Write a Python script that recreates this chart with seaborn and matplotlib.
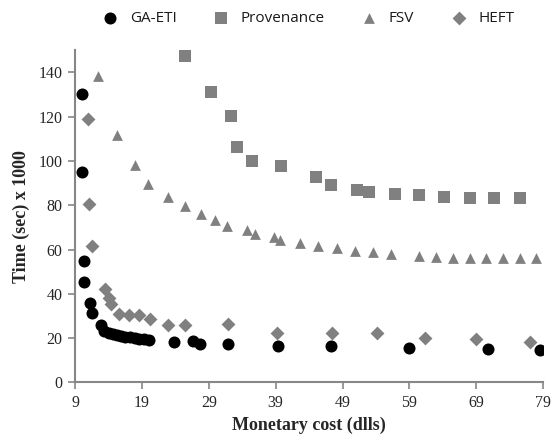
import matplotlib
matplotlib.use("Agg")
import matplotlib.pyplot as plt
import seaborn as sns
import pandas as pd

ga_x = [10.1, 10.0, 10.3, 10.3, 11.25, 11.6, 12.9, 13.4, 14.0, 14.6, 15.2, 15.8, 16.5, 17.2, 17.9, 18.6, 19.3, 20.0,
        23.8, 26.6, 27.7, 31.8, 39.4, 47.3, 59.0, 70.7, 78.6]
ga_y = [130.1, 94.9, 54.7, 45.2, 35.8, 31.2, 26.0, 23.3, 22.3, 21.8, 21.4, 21.0, 20.6, 20.3, 20.0, 19.7, 19.4, 19.1,
        18.0, 18.9, 17.4, 17.1, 16.6, 16.2, 15.7, 15.1, 14.7]

prov_x = [25.5, 29.3, 32.3, 33.2, 35.5, 39.8, 45.1, 47.3, 51.2, 53.0, 56.8, 60.5, 64.2, 68.0, 71.7, 75.5]
prov_y = [147.5, 131.2, 120.3, 106.2, 100.1, 97.9, 92.9, 89.2, 86.9, 86.1, 85.1, 84.7, 83.9, 83.4, 83.4, 83.4]

fsv_x = [12.5, 15.3, 17.9, 19.9, 22.9, 25.5, 27.9, 29.9, 31.7, 34.7, 35.9, 38.8, 39.7, 42.6, 45.4, 48.2, 50.9, 53.6,
         56.3, 60.5, 63.0, 65.5, 68.0, 70.5, 73.0, 75.5, 78.0]
fsv_y = [138.4, 111.7, 98.2, 89.6, 83.9, 79.7, 76.1, 73.2, 70.8, 68.8, 67.0, 65.5, 64.3, 62.8, 61.8, 60.6, 59.5, 59.1,
         58.0, 57.2, 56.5, 56.1, 56.1, 56.1, 56.1, 56.1, 56.1]

heft_x = [11.0, 11.1, 11.6, 13.5, 14.1, 14.4, 15.6, 17.0, 18.6, 20.2, 22.9, 25.4, 31.8, 39.2, 47.4, 54.1, 61.4, 68.9, 77.0]
heft_y = [119.1, 80.7, 61.6, 42.2, 38.3, 35.3, 30.9, 30.5, 30.2, 28.7, 26.0, 26.0, 26.4, 22.2, 22.2, 22.2, 20.2, 19.5, 18.2]

series = ["GA-ETI", "Provenance", "FSV", "HEFT"]
x_ticks = [9, 19, 29, 39, 49, 59, 69, 79]
y_ticks = [0, 20, 40, 60, 80, 100, 120, 140]

frames = []
for name, xs, ys in [("GA-ETI", ga_x, ga_y), ("Provenance", prov_x, prov_y),
                     ("FSV", fsv_x, fsv_y), ("HEFT", heft_x, heft_y)]:
    frames.append(pd.DataFrame({"cost": xs, "time": ys, "alg": name}))
df = pd.concat(frames, ignore_index=True)

sns.set_style("white")
plt.rcParams["font.family"] = ["Liberation Serif", "DejaVu Serif"]

fig = plt.figure(figsize=(5.52, 4.41), dpi=100)
ax = fig.add_axes([0.136, 0.133, 0.848, 0.753])

palette = {"GA-ETI": "#000000", "Provenance": "#808080", "FSV": "#808080", "HEFT": "#808080"}
markers = {"GA-ETI": "o", "Provenance": "s", "FSV": "^", "HEFT": "D"}
sizes = {"GA-ETI": 75, "Provenance": 80, "FSV": 60, "HEFT": 50}

for name in series:
    sub = df[df["alg"] == name]
    sns.scatterplot(data=sub, x="cost", y="time", color=palette[name], marker=markers[name],
                    s=sizes[name], linewidth=0, ax=ax, label=name, zorder=3 if name == "GA-ETI" else 2)

ax.set_xlim(9, 79)
ax.set_ylim(0, 150)
ax.set_xticks(x_ticks)
ax.set_yticks(y_ticks)
ax.tick_params(axis="both", direction="out", length=5, width=1.2, color="#868686",
               labelsize=11.5, pad=4, bottom=True, left=True)
for side in ["top", "right"]:
    ax.spines[side].set_visible(False)
for side in ["left", "bottom"]:
    ax.spines[side].set_color("#868686")
    ax.spines[side].set_linewidth(1.5)

ax.set_xlabel("Monetary cost (dlls)", fontsize=13, fontweight="bold", labelpad=4)
ax.set_ylabel("Time (sec) x 1000", fontsize=13, fontweight="bold", labelpad=6)

leg = ax.legend(loc="upper center", bbox_to_anchor=(0.49, 1.16), ncol=4, frameon=False,
                prop={"family": "Open Sans", "size": 11}, handletextpad=0.3, columnspacing=1.9,
                markerscale=1.0)
for t in leg.get_texts():
    t.set_color("#1a1a1a")
fig.savefig("out.png", dpi=100)
